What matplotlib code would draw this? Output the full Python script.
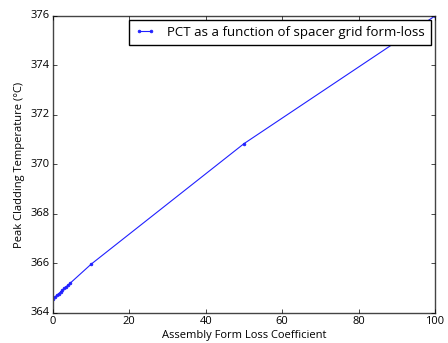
import matplotlib
matplotlib.use('Agg')
import matplotlib.pyplot as plt

# Coeficientes de perda de forma e temperatura de pico
form_loss = [0, 0.5, 1, 1.5, 2, 2.5, 3, 3.5, 4, 4.5, 10, 50, 100]
pct = [364.57, 364.64, 364.71, 364.78, 364.85, 364.92, 364.99, 365.06,
       365.13, 365.2, 365.97, 370.84, 376.0]

plt.style.use('classic')
plt.rcParams['font.family'] = ['Open Sans', 'DejaVu Sans']

fig = plt.figure(figsize=(4.48, 3.43), dpi=100, facecolor='white')
ax = fig.add_axes([0.118, 0.0875, 0.853, 0.866])

ax.plot(form_loss, pct, '.-', color='#2020ff', markersize=4, linewidth=0.8,
        label='PCT as a function of spacer grid form-loss')

ax.set_xlim(0, 100)
ax.set_ylim(364, 376)
ax.set_xticks([0, 20, 40, 60, 80, 100])
ax.set_yticks([364, 366, 368, 370, 372, 374, 376])
ax.tick_params(labelsize=8, length=3, pad=2)
for s in ax.spines.values():
    s.set_color('#444444')

ax.set_xlabel('Assembly Form Loss Coefficient', fontsize=8, labelpad=2)
ax.set_ylabel('Peak Cladding Temperature (°C)', fontsize=8, labelpad=4)

ax.legend(loc='upper right', fontsize=9.5, numpoints=2, fancybox=False,
          borderaxespad=0.3, borderpad=0.45, handlelength=1.5,
          handletextpad=0.95)

fig.savefig('out.png', dpi=100, facecolor='white')
